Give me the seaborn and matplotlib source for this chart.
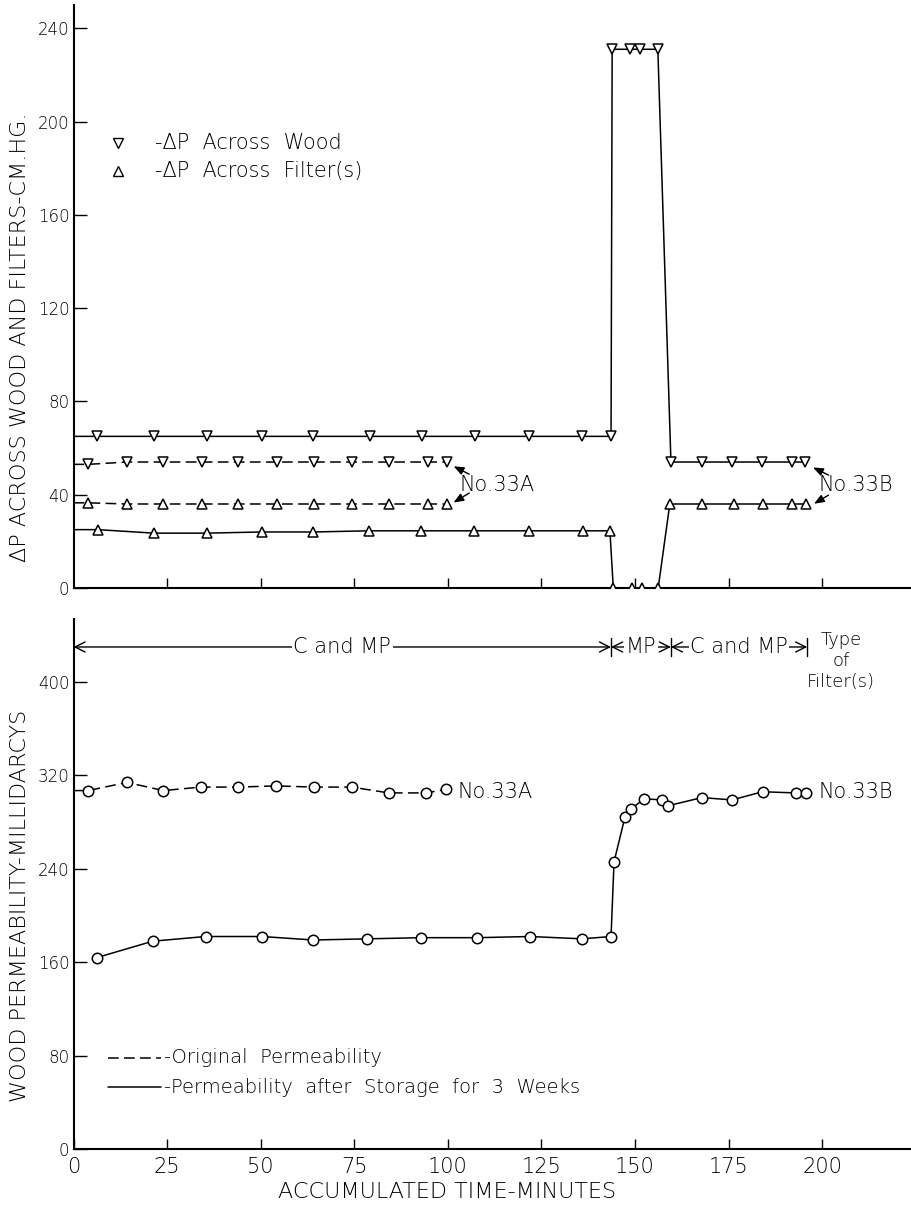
import numpy as np
import seaborn as sns
import matplotlib.pyplot as plt

# --- top panel: pressure drop, cm Hg ---
wood_time = [6.3, 21.5, 35.6, 50.3, 64.1, 79.3, 93.2, 107.3, 121.7, 135.9, 143.6,
             143.9, 148.7, 151.3, 156.1, 159.6, 167.9, 175.9, 183.9, 191.9, 195.3]
wood_dp = [65, 65, 65, 65, 65, 65, 65, 65, 65, 65, 65,
           231, 231, 231, 231, 54, 54, 54, 54, 54, 54]

filter_time = [6.5, 21.5, 35.6, 50.3, 64.1, 79.0, 92.9, 107.1, 121.7, 136.0, 143.3,
               144.2, 149.3, 151.9, 156.2, 159.3, 167.9, 176.4, 184.1, 191.9, 195.6]
filter_dp = [25, 23.5, 23.5, 24, 24, 24.5, 24.5, 24.5, 24.5, 24.5, 24.5,
             0, 0, 0, 0, 36, 36, 36, 36, 36, 36]

time_33a = [3.9, 14.3, 23.9, 34.3, 43.9, 54.3, 64.2, 74.5, 84.4, 94.8, 99.9]
wood_dp_33a = [53, 54, 54, 54, 54, 54, 54, 54, 54, 54, 54]
filter_dp_33a = [36.5, 36, 36, 36, 36, 36, 36, 36, 36, 36, 36]

# --- bottom panel: permeability, millidarcys ---
orig_time = [3.9, 14.3, 24.0, 34.0, 43.9, 54.0, 64.2, 74.3, 84.2, 94.2, 99.5]
orig_perm = [307, 314, 307, 310, 310, 311, 310, 310, 305, 305, 308]

stored_time = [6.3, 21.2, 35.3, 50.3, 64.1, 78.5, 92.9, 107.9, 122.0, 135.9, 143.6,
               144.4, 147.3, 148.9, 152.4, 157.2, 158.8, 167.9, 175.9, 184.1, 192.9, 195.6]
stored_perm = [164, 178, 182, 182, 179, 180, 181, 181, 182, 180, 182,
               246, 284, 291, 300, 299, 294, 301, 299, 306, 305, 305]

# filter type periods (minutes)
filter_periods = [(0, 143.6, "C and MP"), (143.6, 159.6, "MP"), (159.6, 196.0, "C and MP")]

x_ticks = [0, 25, 50, 75, 100, 125, 150, 175, 200]
top_yticks = [0, 40, 80, 120, 160, 200, 240]
bottom_yticks = [0, 80, 160, 240, 320, 400]

DASH = (0, (7, 3.5))

sns.set_theme(style="ticks")
plt.rcParams["font.family"] = ["DejaVu Sans"]
plt.rcParams["font.weight"] = "light"
plt.rcParams["axes.labelweight"] = "light"
plt.rcParams["text.color"] = "black"
plt.rcParams["axes.labelcolor"] = "black"
plt.rcParams["xtick.color"] = "black"
plt.rcParams["ytick.color"] = "black"
plt.rcParams["axes.edgecolor"] = "black"


def draw_series(ax, t, v, marker, dashed=False, from_zero=True, ms=7):
    tt = np.r_[0.0, t] if from_zero else np.asarray(t, dtype=float)
    vv = np.r_[v[0], v] if from_zero else np.asarray(v, dtype=float)
    sns.lineplot(x=tt, y=vv, sort=False, estimator=None, color="black",
                 linewidth=1.1, linestyle=DASH if dashed else "-", ax=ax)
    sns.lineplot(x=t, y=v, sort=False, estimator=None, color="black",
                 linestyle="none", marker=marker, markersize=ms,
                 markerfacecolor="white", markeredgecolor="black",
                 markeredgewidth=1.1, ax=ax, zorder=3)


def arrow(ax, tail, head):
    ax.annotate("", xy=head, xytext=tail,
                arrowprops=dict(arrowstyle="-|>,head_length=0.5,head_width=0.2",
                                color="black", lw=1, shrinkA=0, shrinkB=2))


fig = plt.figure(figsize=(9.12, 12.12), dpi=100)
ax_top = fig.add_axes([0.0806, 0.5149, 0.9194, 0.481])
ax_bot = fig.add_axes([0.0806, 0.052, 0.9194, 0.4373])

for ax in (ax_top, ax_bot):
    sns.despine(ax=ax)
    ax.spines["left"].set_linewidth(1.5)
    ax.spines["bottom"].set_linewidth(1.5)
    ax.set_xlim(0, 224)
    ax.tick_params(direction="in", color="black", labelcolor="black", width=1)
    ax.tick_params(axis="y", length=9, labelsize=12, pad=3)
    ax.tick_params(axis="x", length=7, labelsize=15, pad=6)

# top panel
draw_series(ax_top, wood_time, wood_dp, "v")
draw_series(ax_top, filter_time, filter_dp, "^")
draw_series(ax_top, time_33a, wood_dp_33a, "v", dashed=True)
draw_series(ax_top, time_33a, filter_dp_33a, "^", dashed=True)

ax_top.set_ylim(0, 250)
ax_top.set_yticks(top_yticks)
ax_top.set_xticks(x_ticks[1:])
ax_top.set_xticklabels([])
ax_top.set_xlabel("")
ax_top.set_ylabel("ΔP ACROSS WOOD AND FILTERS-CM.HG.", fontsize=16, color="black")
ax_top.yaxis.set_label_coords(-0.052, 0.43)

ax_top.plot([11.9], [190.6], "v", ms=6.5, mfc="white", mec="black", mew=1)
ax_top.plot([11.9], [178.6], "^", ms=6.5, mfc="white", mec="black", mew=1)
ax_top.text(21.7, 190.6, "-ΔP  Across  Wood", fontsize=15, va="center")
ax_top.text(21.7, 178.6, "-ΔP  Across  Filter(s)", fontsize=15, va="center")

ax_top.text(103, 44, "No.33A", fontsize=15, va="center")
arrow(ax_top, (105.7, 48.8), (100.9, 52.7))
arrow(ax_top, (105.7, 40.7), (100.9, 36.0))
ax_top.text(199, 44, "No.33B", fontsize=15, va="center")
arrow(ax_top, (201.7, 48.4), (196.9, 52.2))
arrow(ax_top, (201.7, 39.8), (197.2, 35.5))

# bottom panel
draw_series(ax_bot, orig_time, orig_perm, "o", dashed=True, ms=7.5)
draw_series(ax_bot, stored_time, stored_perm, "o", from_zero=False, ms=7.5)

ax_bot.set_ylim(0, 454)
ax_bot.set_yticks(bottom_yticks)
ax_bot.set_xticks(x_ticks)
ax_bot.set_xlabel("ACCUMULATED TIME-MINUTES", fontsize=16, color="black")
ax_bot.xaxis.set_label_coords(0.445, -0.062)
ax_bot.set_ylabel("WOOD PERMEABILITY-MILLIDARCYS", fontsize=16, color="black")
ax_bot.yaxis.set_label_coords(-0.052, 0.458)

ax_bot.text(102.5, 306, "No.33A", fontsize=15, va="center")
ax_bot.text(199, 306, "No.33B", fontsize=15, va="center")

# filter type bracket
y_br = 430
for start, end, label in filter_periods:
    ax_bot.annotate("", xy=(start, y_br), xytext=(end, y_br),
                    arrowprops=dict(arrowstyle="<->,head_length=0.6,head_width=0.3",
                                    color="black", lw=1, shrinkA=0, shrinkB=0))
    ax_bot.text((start + end) / 2, y_br, label, fontsize=15, ha="center", va="center",
                bbox=dict(facecolor="white", edgecolor="none", pad=1))
for xb in [p[1] for p in filter_periods]:
    ax_bot.plot([xb, xb], [y_br - 8, y_br + 8], color="black", lw=1)
ax_bot.text(205, 418, "Type\nof\nFilter(s)", fontsize=13, ha="center", va="center",
            linespacing=1.2)

# legend
ax_bot.plot([9.2, 23.5], [78, 78], color="black", lw=1.1, linestyle=DASH)
ax_bot.plot([9.2, 23.5], [53, 53], color="black", lw=1.1)
ax_bot.text(24.3, 78, "-Original  Permeability", fontsize=14, va="center")
ax_bot.text(24.3, 53, "-Permeability  after  Storage  for  3  Weeks", fontsize=14, va="center")

fig.savefig("out.png", dpi=100)
